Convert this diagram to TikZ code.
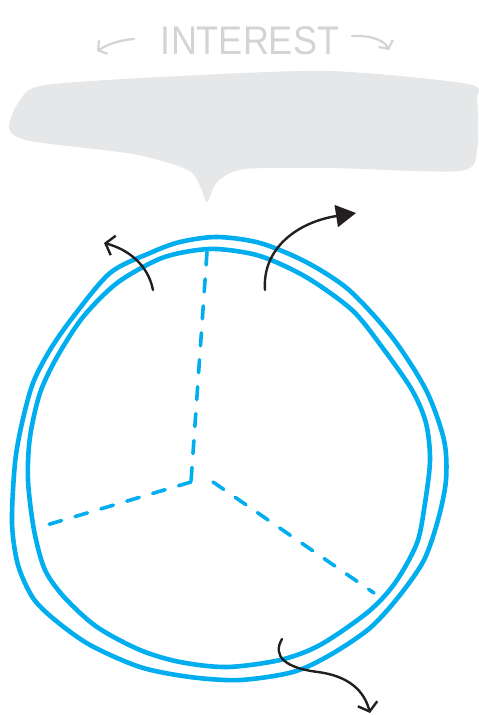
\documentclass[tikz,border=0pt]{standalone}
\usepackage{fontspec}
\setmainfont{Liberation Sans}
\usetikzlibrary{arrows.meta}
\definecolor{bleu}{HTML}{00AEEF}
\definecolor{grisclair}{HTML}{E6E7E8}
\definecolor{grisfonce}{HTML}{231F20}
\tikzset{
  cercle/.style={bleu, line width=4.6pt, line join=round},
  tirets/.style={bleu, line width=3.6pt, line cap=round, dash pattern=on 13pt off 14pt},
  fleche/.style={grisfonce, line width=2.4pt, line cap=round, -{Straight Barb[length=8pt,width=20pt]}},
  grossefleche/.style={grisfonce, line width=2.4pt, line cap=round, -{Triangle[length=20pt,width=22pt]}},
  petitefleche/.style={grisclair!92!black, line width=2.2pt, line cap=round, -{Straight Barb[length=6pt,width=16pt]}}
}
\begin{document}
\begin{tikzpicture}[x=1pt,y=-1pt]
\useasboundingbox (0,0) rectangle (479,715);

% Titre et bulle
\node[text=grisclair!92!black, font=\fontsize{40}{40}\selectfont, xscale=0.9] (titre) at (250,41) {INTEREST};
\coordinate (gA) at (134,39);
\coordinate (gB) at (97,51);
\coordinate (dA) at (352,36);
\coordinate (dB) at (389,50);
\draw[petitefleche] (gA) .. controls (120,40) and (108,44) .. (gB);
\draw[petitefleche] (dA) .. controls (370,35) and (384,40) .. (dB);
\fill[grisclair] plot[smooth cycle, tension=0.45] coordinates {
  (45,85) (180,76) (330,71) (468,84) (477,100) (477,150) (460,171)
  (330,168) (245,169) (218,181) (207,202) (201,188) (188,170)
  (133,154) (30,141) (9,128) (20,100)};

% Les deux contours bleus
\draw[cercle] plot[smooth cycle, tension=0.5] coordinates {
  (180,242) (217,237) (260,243) (306,262) (349,290) (392,337) (426,390)
  (444,440) (446,480) (438,520) (424,560) (400,595) (370,628) (330,655)
  (293,672) (240,680) (190,677) (140,667) (90,645) (55,620) (33,598)
  (18,565) (12,523) (15,463) (22,423) (33,383) (50,350) (73,317)
  (110,273) (150,253)};
\draw[cercle] plot[smooth cycle, tension=0.5] coordinates {
  (185,252) (217,249) (260,256) (306,277) (352,310) (382,347) (412,390)
  (426,423) (430,460) (425,503) (417,543) (395,583) (368,612) (320,645)
  (280,660) (227,667) (180,662) (140,650) (97,627) (65,598) (45,570)
  (34,530) (28,480) (30,437) (40,393) (57,357) (83,317) (117,283)
  (157,260)};

% Les trois rayons en tirets
\coordinate (centre) at (191,482);
\coordinate (haut) at (207,252);
\coordinate (gauche) at (40,527);
\coordinate (depart) at (213,482);
\coordinate (droite) at (374,593);
\draw[tirets] (haut) -- (centre);
\draw[tirets] (centre) -- (gauche);
\draw[tirets] (depart) -- (droite);

% Fleches noires
\coordinate (a1) at (153,290);
\coordinate (b1) at (104,243);
\coordinate (a2) at (265,290);
\coordinate (b2) at (356,213);
\coordinate (a3) at (282,639);
\coordinate (b3) at (370,713);
\draw[fleche] (a1) .. controls (148,264) and (127,249) .. (b1);
\draw[grossefleche] (a2) .. controls (262,248) and (298,222) .. (b2);
\draw[fleche] (a3) .. controls (272,656) and (285,668) .. (318,672)
  .. controls (348,676) and (364,690) .. (b3);
\end{tikzpicture}
\end{document}
